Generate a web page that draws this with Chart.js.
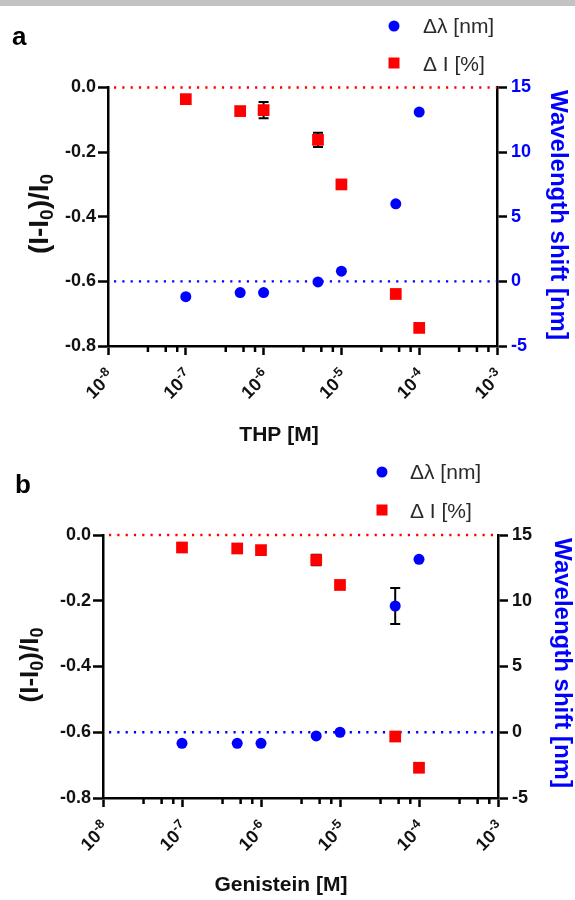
<!DOCTYPE html>
<html><head><meta charset="utf-8">
<script src="https://cdn.jsdelivr.net/npm/chart.js@4.4.1/dist/chart.umd.min.js"></script>
<style>
html,body{margin:0;padding:0;background:#fff;width:575px;height:900px;overflow:hidden}
#bar{position:absolute;left:0;top:0;width:575px;height:6px;background:#c3c3c3}
.wrap{position:absolute;left:0;width:575px;height:450px}
canvas{display:block}
</style></head><body>
<div class="wrap" style="top:0"><canvas id="ca" width="575" height="450"></canvas></div>
<div class="wrap" style="top:450px"><canvas id="cb" width="575" height="450"></canvas></div>
<div id="bar"></div>
<script>
// ---------- data ----------
const concentrations = [1e-7, 5e-7, 1e-6, 5e-6, 1e-5, 5e-5, 1e-4];
const thpIntensity    = [-0.036, -0.073, -0.070, -0.162, -0.300, -0.639, -0.744];
const thpIntensityErr = [0, 0, 0.025, 0.022, 0, 0, 0];
const thpShift        = [-1.18, -0.87, -0.87, -0.04, 0.79, 6.0, 13.1];
const thpShiftErr     = [0, 0, 0, 0, 0, 0, 0];
const genIntensity    = [-0.038, -0.041, -0.046, -0.076, -0.152, -0.613, -0.708];
const genIntensityErr = [0, 0, 0, 0.016, 0, 0, 0];
const genShift        = [-0.84, -0.84, -0.84, -0.28, 0.0, 9.6, 13.15];
const genShiftErr     = [0, 0, 0, 0, 0, 1.37, 0];
const xTickExponents  = [-8, -7, -6, -5, -4, -3];
const minorMultipliers = [3.26, 5.52, 7.76];
const intensityTicks  = [0, -0.2, -0.4, -0.6, -0.8];
const shiftTicks      = [15, 10, 5, 0, -5];
const legendLabels    = ['\u0394\u03bb [nm]', '\u0394 I [%]'];
const intensityTitleParts = [['(I-I', false], ['0', true], [')/I', false], ['0', true]];
const shiftTitle = 'Wavelength shift [nm]';

const FAM = '"Liberation Sans", Arial, sans-serif';
const RED = '#ff0000', BLUE = '#0000ff';

const decor = {
  id: 'decor',
  beforeDatasetsDraw(chart) {
    const p = chart.options.plugins.decor;
    const ctx = chart.ctx, x = chart.scales.x;
    ctx.save();
    ctx.strokeStyle = '#000'; ctx.lineWidth = 2;
    const bars = [[p.intensity, p.intensityErr, chart.scales.y], [p.shift, p.shiftErr, chart.scales.y2]];
    bars.forEach(([vals, errs, sc]) => {
      vals.forEach((v, i) => {
        if (!errs[i]) return;
        const px = x.getPixelForValue(concentrations[i]);
        const y1 = sc.getPixelForValue(v + errs[i]), y2 = sc.getPixelForValue(v - errs[i]);
        ctx.beginPath();
        ctx.moveTo(px, y1); ctx.lineTo(px, y2);
        ctx.moveTo(px - 5, y1); ctx.lineTo(px + 5, y1);
        ctx.moveTo(px - 5, y2); ctx.lineTo(px + 5, y2);
        ctx.stroke();
      });
    });
    ctx.restore();
  },
  afterDraw(chart) {
    const p = chart.options.plugins.decor;
    const ctx = chart.ctx, x = chart.scales.x, area = chart.chartArea;
    ctx.save();
    // minor ticks
    ctx.strokeStyle = '#000'; ctx.lineWidth = 2.5;
    xTickExponents.slice(0, -1).forEach(e => {
      minorMultipliers.forEach(m => {
        const px = x.getPixelForValue(m * Math.pow(10, e));
        ctx.beginPath(); ctx.moveTo(px, area.bottom); ctx.lineTo(px, area.bottom + 6); ctx.stroke();
      });
    });
    // x tick labels 10^n
    ctx.fillStyle = '#111';
    xTickExponents.forEach(e => {
      const px = x.getPixelForValue(Math.pow(10, e));
      ctx.save();
      ctx.translate(px - 4, area.bottom + 20);
      ctx.rotate(-Math.PI / 4);
      ctx.textAlign = 'right'; ctx.textBaseline = 'alphabetic';
      ctx.font = `bold 13px ${FAM}`;
      const expTxt = String(e);
      ctx.fillText(expTxt, 0, 9);
      const ew = ctx.measureText(expTxt).width;
      ctx.font = `bold 18px ${FAM}`;
      ctx.fillText('10', -ew, 16);
      ctx.restore();
    });
    // x title
    ctx.font = `bold 21px ${FAM}`; ctx.textAlign = 'center'; ctx.textBaseline = 'middle';
    ctx.fillStyle = '#111';
    ctx.fillText(p.xTitle, p.xTitlePos[0], p.xTitlePos[1]);
    // left title with subscripts
    const size = p.yTitleSize, subSize = Math.round(size * 0.68);
    let total = 0;
    intensityTitleParts.forEach(([t, sub]) => { ctx.font = `bold ${sub ? subSize : size}px ${FAM}`; total += ctx.measureText(t).width; });
    ctx.save();
    ctx.translate(p.yTitlePos[0], p.yTitlePos[1]);
    ctx.rotate(-Math.PI / 2);
    ctx.textAlign = 'left'; ctx.textBaseline = 'alphabetic';
    let u = -total / 2;
    intensityTitleParts.forEach(([t, sub]) => {
      ctx.font = `bold ${sub ? subSize : size}px ${FAM}`;
      ctx.fillText(t, u, sub ? size * 0.55 : size * 0.36);
      u += ctx.measureText(t).width;
    });
    ctx.restore();
    // right title
    ctx.save();
    ctx.translate(p.y2TitlePos[0], p.y2TitlePos[1]);
    ctx.rotate(Math.PI / 2);
    ctx.font = `bold 24px ${FAM}`; ctx.fillStyle = BLUE;
    ctx.textAlign = 'center'; ctx.textBaseline = 'middle';
    ctx.fillText(shiftTitle, 0, 0);
    ctx.restore();
    // legend
    ctx.fillStyle = BLUE;
    ctx.beginPath(); ctx.arc(p.legend.mx, p.legend.y1, 5.5, 0, Math.PI * 2); ctx.fill();
    ctx.fillStyle = RED;
    ctx.fillRect(p.legend.mx - 5.5, p.legend.y2 - 5.5, 11, 11);
    ctx.fillStyle = '#2a2a2a'; ctx.font = `21px ${FAM}`; ctx.textAlign = 'left'; ctx.textBaseline = 'middle';
    ctx.fillText(legendLabels[0], p.legend.tx, p.legend.y1 + 1);
    ctx.fillText(legendLabels[1], p.legend.tx, p.legend.y2 + 2);
    // panel letter
    ctx.fillStyle = '#000'; ctx.font = `bold 26px ${FAM}`; ctx.textAlign = 'left'; ctx.textBaseline = 'alphabetic';
    ctx.fillText(p.letter, p.letterPos[0], p.letterPos[1]);
    ctx.restore();
  }
};

function makePanel(id, p) {
  const pts = ys => concentrations.map((c, i) => ({ x: c, y: ys[i] }));
  const xMin = Math.pow(10, xTickExponents[0]), xMax = Math.pow(10, xTickExponents[xTickExponents.length - 1]);
  const tickFont = { family: FAM, size: 18, weight: 'bold' };
  const gridCommon = { drawOnChartArea: false, drawTicks: true, tickWidth: 2.5, tickColor: '#000' };
  const border = { display: true, color: '#000', width: 2.5 };
  return new Chart(document.getElementById(id), {
    type: 'scatter',
    data: { datasets: [
      { label: legendLabels[0], data: pts(p.shift), yAxisID: 'y2', pointStyle: 'circle', pointRadius: 5.5,
        backgroundColor: BLUE, borderWidth: 0, order: 0, clip: false },
      { label: legendLabels[1], data: pts(p.intensity), yAxisID: 'y', pointStyle: 'rect', pointRadius: 8.3,
        backgroundColor: RED, borderWidth: 0, order: 1, clip: false },
      { type: 'line', label: 'ref-intensity', data: [{ x: xMin, y: 0 }, { x: xMax, y: 0 }], yAxisID: 'y',
        borderColor: RED, borderWidth: 2.4, borderDash: [2.2, 6.1], borderDashOffset: -6, pointRadius: 0, order: 5, clip: false },
      { type: 'line', label: 'ref-shift', data: [{ x: xMin, y: 0 }, { x: xMax, y: 0 }], yAxisID: 'y2',
        borderColor: BLUE, borderWidth: 2.4, borderDash: [2.2, 6.1], borderDashOffset: -6, pointRadius: 0, order: 5, clip: false }
    ] },
    options: {
      responsive: false, animation: false, devicePixelRatio: 1,
      layout: { padding: { top: p.area.top, left: 0, right: 0, bottom: 0 } },
      plugins: { legend: { display: false }, tooltip: { enabled: false },
        decor: p },
      scales: {
        x: { type: 'logarithmic', min: xMin, max: xMax,
          afterBuildTicks: s => { s.ticks = xTickExponents.map(e => ({ value: Math.pow(10, e), major: true })); },
          afterFit: s => { s.height = 450 - p.area.bottom; },
          ticks: { display: false },
          grid: Object.assign({ tickLength: 9 }, gridCommon), border },
        y: { position: 'left', min: -0.8, max: 0,
          afterBuildTicks: s => { s.ticks = intensityTicks.map(v => ({ value: v })); },
          afterFit: s => { s.width = p.area.left; },
          ticks: { callback: v => Number(v).toFixed(1), font: tickFont, color: '#111', padding: 2 },
          grid: Object.assign({ tickLength: 10 }, gridCommon), border },
        y2: { position: 'right', min: -5, max: 15,
          afterBuildTicks: s => { s.ticks = shiftTicks.map(v => ({ value: v })); },
          afterFit: s => { s.width = 575 - p.area.right; },
          ticks: { callback: v => String(v), font: tickFont, color: p.y2TickColor, padding: 4 },
          grid: Object.assign({ tickLength: 10 }, gridCommon), border }
      }
    },
    plugins: [decor]
  });
}

makePanel('ca', {
  area: { left: 108, right: 497, top: 87.5, bottom: 346 },
  intensity: thpIntensity, intensityErr: thpIntensityErr, shift: thpShift, shiftErr: thpShiftErr,
  xTitle: 'THP [M]', xTitlePos: [279, 435],
  yTitleSize: 28, yTitlePos: [37.5, 214], y2TitlePos: [558, 215],
  y2TickColor: BLUE,
  legend: { mx: 394, y1: 26, y2: 63, tx: 423 },
  letter: 'a', letterPos: [12, 45]
});
makePanel('cb', {
  area: { left: 103, right: 498, top: 85, bottom: 348 },
  intensity: genIntensity, intensityErr: genIntensityErr, shift: genShift, shiftErr: genShiftErr,
  xTitle: 'Genistein [M]', xTitlePos: [281, 435],
  yTitleSize: 26, yTitlePos: [29, 215], y2TitlePos: [562, 213],
  y2TickColor: '#111',
  legend: { mx: 382, y1: 22, y2: 60, tx: 410 },
  letter: 'b', letterPos: [15, 43]
});
</script>
</body></html>
